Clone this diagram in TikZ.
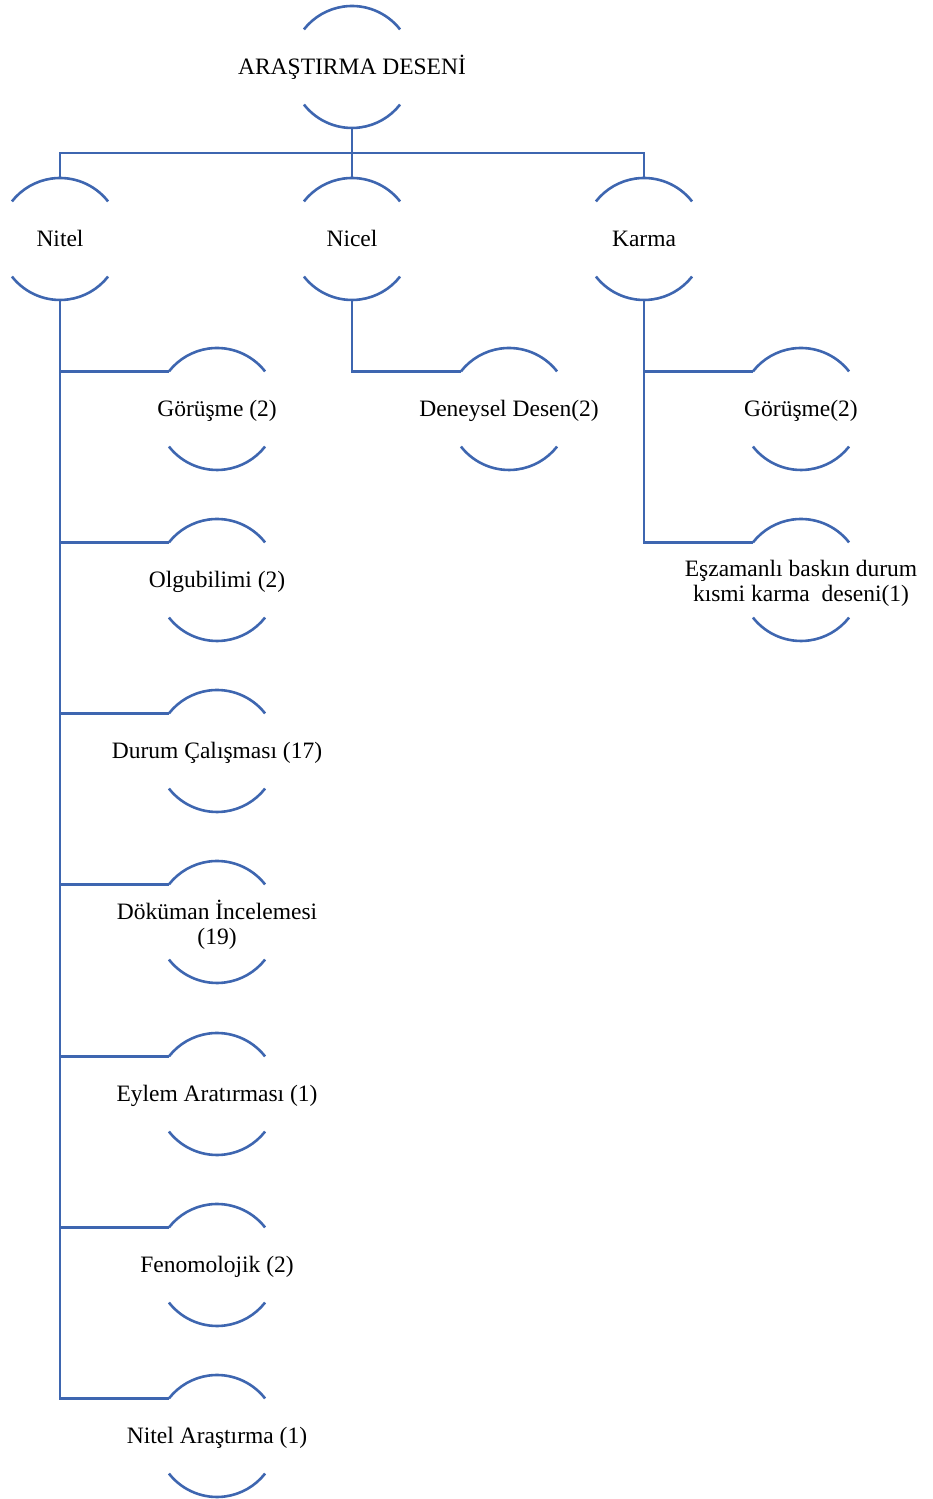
\documentclass[tikz,border=0pt]{standalone}
\usepackage{fontspec}
\setmainfont{Liberation Serif}
\definecolor{lineblue}{RGB}{62,102,176}
\begin{document}
\begin{tikzpicture}[x=1pt,y=1pt,
  circ/.style={circle,draw=none,minimum size=122pt,inner sep=0pt,outer sep=0pt},
  lbl/.style={align=center,inner sep=0pt,font=\fontsize{23.5}{25}\selectfont},
  oneline/.style={text height=17pt,text depth=3pt,yshift=-0.5pt},
  twoline/.style={yshift=-3pt},
  ln/.style={draw=lineblue,line width=2.6pt},
  arcs/.style={draw=lineblue,line width=2.6pt}]
\useasboundingbox (0,0) rectangle (932,1499);
\newcommand{\arcnode}[4][oneline]{%
  \node[circ] (#2) at (#3) {};
  \node[lbl,#1] (#2-t) at (#2.center) {#4};
  \draw[arcs] (#2.38) arc[start angle=38,end angle=142,radius=61pt];
  \draw[arcs] (#2.218) arc[start angle=218,end angle=322,radius=61pt];}
\arcnode{top}{352,1432}{ARAŞTIRMA DESENİ}
\arcnode{nitel}{60,1260}{Nitel}
\arcnode{nicel}{352,1260}{Nicel}
\arcnode{karma}{644,1260}{Karma}
\arcnode{a1}{217,1090}{Görüşme (2)}
\arcnode{a2}{217,919}{Olgubilimi (2)}
\arcnode{a3}{217,748}{Durum Çalışması (17)}
\arcnode[twoline]{a4}{217,577}{Döküman İncelemesi\\(19)}
\arcnode{a5}{217,405}{Eylem Aratırması (1)}
\arcnode{a6}{217,234}{Fenomolojik (2)}
\arcnode{a7}{217,63}{Nitel Araştırma (1)}
\arcnode{b1}{509,1090}{Deneysel Desen(2)}
\arcnode{c1}{801,1090}{Görüşme(2)}
\arcnode[twoline]{c2}{801,919}{Eşzamanlı baskın durum\\kısmi karma\ \ deseni(1)}
% level 1
\draw[ln] (top.south) -- ++(0,-25) coordinate (bus);
\draw[ln] (nitel.north) |- (bus) -| (karma.north);
\draw[ln] (nicel.north) -- (nicel.north |- bus);
% Nitel children
\foreach \c in {a1,a2,a3,a4,a5,a6,a7}
  \draw[ln] (nitel.south) |- (\c.142);
% Nicel child
\draw[ln] (nicel.south) |- (b1.142);
% Karma children
\draw[ln] (karma.south) |- (c1.142);
\draw[ln] (karma.south) |- (c2.142);
\end{tikzpicture}
\end{document}
